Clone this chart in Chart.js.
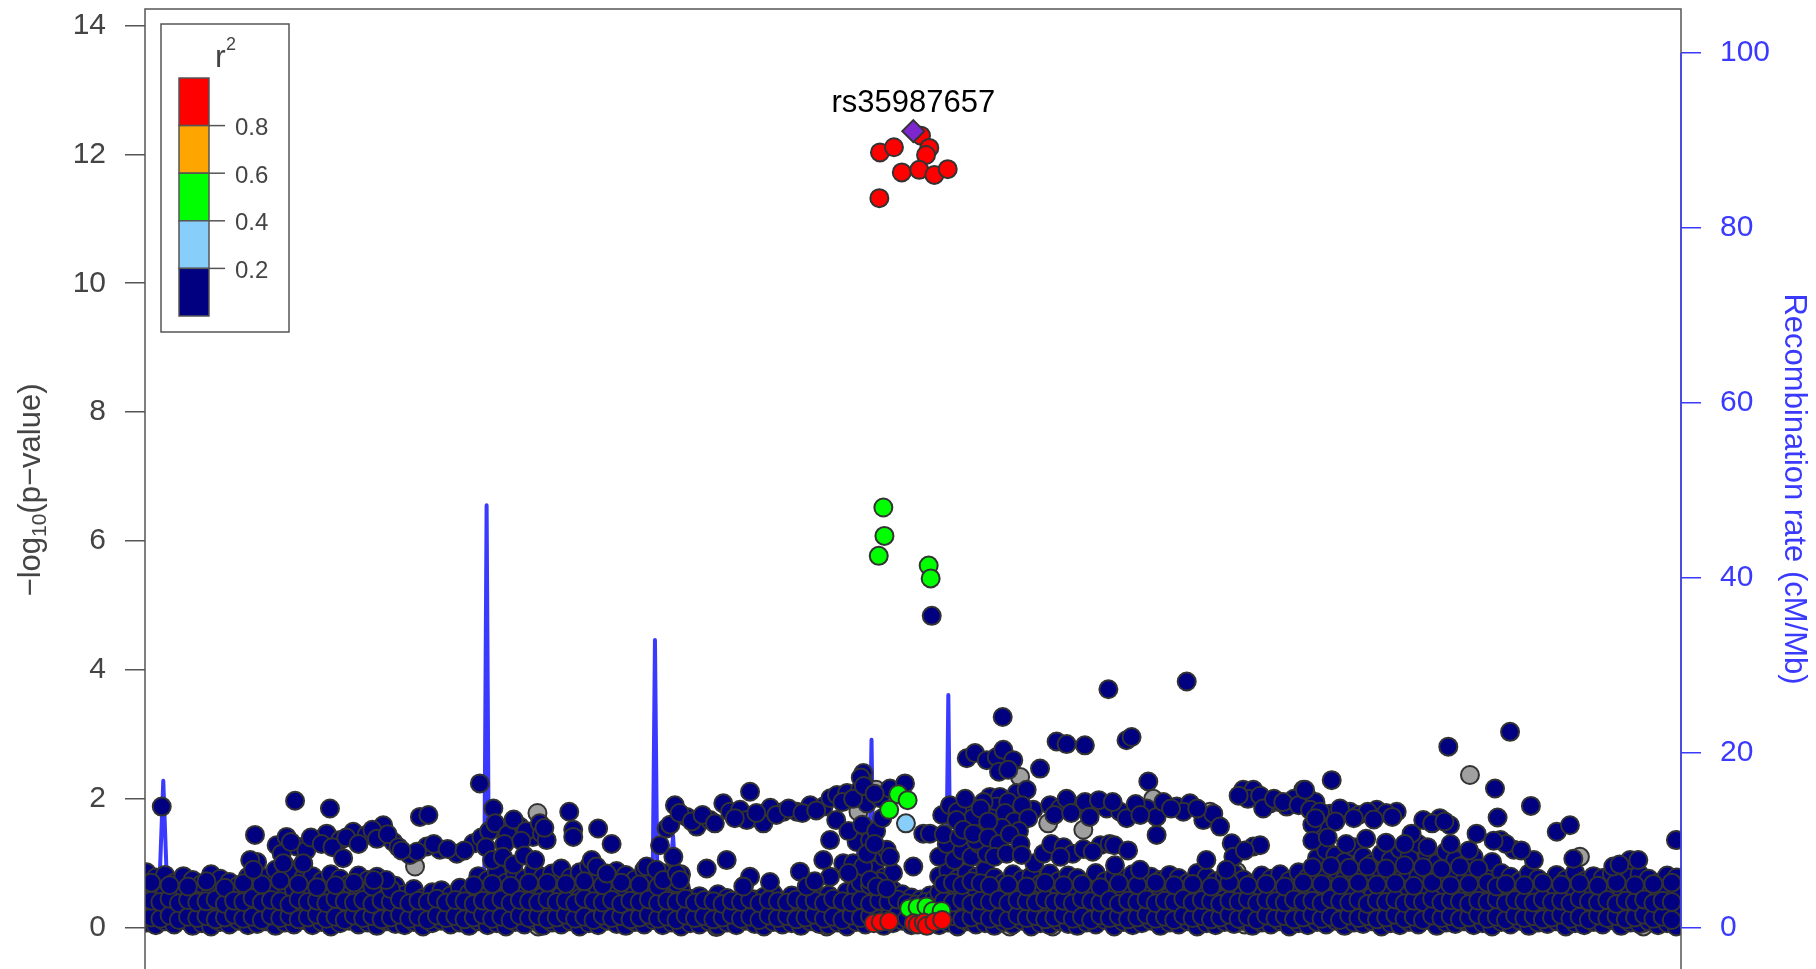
<!DOCTYPE html>
<html>
<head>
<meta charset="utf-8">
<style>
  html, body { margin: 0; padding: 0; background: #fff; overflow: hidden; }
  canvas { display: block; }
</style>
<script src="https://cdn.jsdelivr.net/npm/chart.js@4.4.1/dist/chart.umd.min.js"></script>
</head>
<body>
<canvas id="plot" width="1816" height="969"></canvas>
<script>
// ---- Regional association data: position (kb within region), -log10(p) ----

const leadSnp = { name: 'rs35987657', pos: 500.2, logp: 12.36 };

// r2 >= 0.8
const redSnps = [
  [478.5,12.03],[487.6,12.11],[505.2,12.29],[510.6,12.10],[508.5,11.99],
  [492.7,11.72],[504.1,11.76],[513.9,11.68],[522.6,11.77],[478.1,11.32],
  [474.5,0.07],[479,0.09],[484.5,0.10],[500.5,0.07],[503,0.05],
  [507,0.08],[509,0.03],[514,0.09],[519,0.12]
];

// 0.4 <= r2 < 0.6
const greenSnps = [
  [480.7,6.52],[481.4,6.08],[477.7,5.77],[510.2,5.62],[511.5,5.42],
  [490.4,2.07],[496.5,1.98],[484.5,1.83],
  [497.5,0.30],[503,0.32],[508.8,0.33],[513,0.26],[518.6,0.26]
];

// 0.2 <= r2 < 0.4
const lightBlueSnps = [[495.4,1.62]];

// r2 not available
const graySnps = [
  [175.8,0.95],[255.5,1.78],[256,0.02],[257,0.07],[373,0.07],[372,0.01],[390,0.65],[391.7,0.27],
  [443.8,0.02],[464.5,1.80],[476,2.14],[535,1.90],[536,0.53],[563,0.02],[569.7,2.34],[588,1.62],
  [591,0.02],[610.9,1.52],[656.4,2.00],[656.4,0.74],[693.4,1.80],[710.7,0.87],[716,0.05],
  [860.5,1.15],[862.6,2.37],[934.2,1.10],[975.5,0.02],[975,0.07]
];

// r2 < 0.2 : dense lower band, one row per position [pos, logp, logp, ...]
const baseWest = [
  [1,.08,.31,.55,.86],[7,.04,.27,.6,.78],[13,.1,.35,.52,.82],[19,.05,.22,.47,.7],[25,.12,.3,.58,.8],
  [31,.03,.26,.5,.74],[37,.07,.33,.45,.68],[43,.02,.24,.55,.83],[49,.09,.29,.49,.76],[55,.05,.36,.57,.71],
  [61,.11,.2,.44,.66],[67,.04,.28,.53,.79],[73,.06,.3,.56,.85,1.02],[79,.1,.25,.5,.78],[85,.03,.34,.62,.9],
  [91,.08,.27,.48,.8,.98],[97,.05,.31,.59,.84],[103,.12,.22,.51,.77,.99],[109,.04,.29,.55,.8],[115,.09,.35,.6,.72],
  [121,.02,.24,.47,.83],[127,.07,.32,.54,.76],[133,.11,.27,.5,.68],[139,.05,.21,.58,.81],[145,.08,.36,.45,.74],
  [151,.03,.26,.53,.79],[157,.1,.3,.57,.72],[163,.06,.23,.49,.65],[169,.04,.28,.52],[175,.09,.33,.6],
  [181,.02,.21,.46],[187,.07,.3,.55],[193,.11,.25,.58],[199,.05,.35,.5],[205,.08,.22,.62],
  [211,.03,.29,.54],[217,.1,.32,.56,.8],[223,.04,.26,.5,.74],[229,.07,.36,.61,.86],[235,.02,.23,.47,.7],
  [241,.09,.3,.58,.83],[247,.05,.27,.52,.76],[253,.12,.34,.55,.88],[259,.03,.21,.49,.79]
];
const baseMid = [
  [265,.08,.31,.57,.84],[271,.05,.25,.5,.92],[277,.1,.35,.62,.78],[283,.02,.28,.46,.86],[289,.07,.22,.55,.95],
  [295,.04,.33,.59,.8],[301,.11,.26,.48,.73],[307,.06,.3,.56,.88],[313,.03,.24,.52,.82],[319,.09,.36,.6,.75],
  [325,.05,.27,.5,.9],[331,.12,.32,.57,.79],[337,.04,.21,.47,.85],[343,.08,.29,.54,.72],[349,.02,.34,.61,.83],
  [355,.07,.25,.45],[361,.05,.3,.49],[367,.1,.22,.42],[373,.03,.27,.52],[379,.08,.33,.46],
  [385,.04,.2,.4],[391,.11,.29,.5],[397,.06,.35,.44],[403,.02,.24,.48],[409,.09,.31,.53],
  [415,.05,.26,.41],[421,.07,.34,.5],[427,.03,.21,.45],[433,.1,.28,.55],[439,.06,.32,.47],
  [445,.04,.23,.51],[451,.08,.3,.43],[457,.02,.26,.56],[463,.09,.35,.6],[469,.05,.28,.55,.82,1.05],
  [475,.1,.33,.6,.9,1.2],[481,.03,.24,.5,.78,1.1],[487,.07,.3,.58,.85],[493,.11,.26,.52],[499,.04,.32,.47],
  [505,.06,.22,.44],[511,.1,.3,.5]
];
const baseEast = [
  [517,.04,.27,.55,.8],[523,.08,.34,.6,.88],[529,.02,.23,.49,.76],[535,.1,.3,.57,.85],[541,.05,.36,.52,.79],
  [547,.07,.25,.62,.9],[553,.03,.29,.54,.78],[559,.09,.33,.47,.7],[565,.05,.24,.58,.83],[571,.11,.3,.5,.75],
  [577,.02,.35,.56,.8],[583,.07,.22,.45,.68],[589,.04,.28,.6,.84],[595,.1,.32,.52,.73],[601,.06,.26,.48,.81],
  [607,.03,.34,.57,.77],[613,.08,.21,.53,.69],[619,.05,.3,.59,.85],[625,.12,.27,.46,.72],[631,.02,.33,.55,.8],
  [637,.09,.24,.5,.76],[643,.04,.36,.58,.83],[649,.07,.29,.44,.7],[655,.11,.23,.52,.79],[661,.03,.31,.56,.74],
  [667,.08,.25,.49,.82],[673,.05,.34,.6,.77],[679,.1,.22,.47,.7],[685,.02,.29,.54,.85],[691,.07,.35,.58,.79],
  [697,.04,.26,.51,.72],[703,.09,.32,.45,.8],[709,.06,.23,.57,.84],[715,.11,.3,.53,.75],[721,.03,.27,.48,.69],
  [727,.08,.36,.6,.81],[733,.05,.24,.5,.76],[739,.1,.31,.55,.83],[745,.02,.28,.46,.73],[751,.07,.33,.59,.86],
  [757,.04,.21,.52,.78],[763,.09,.3,.56,.83,1.08],[769,.05,.26,.5,.78,1.2],[775,.11,.35,.61,.9,1.12],[781,.03,.23,.47,.75,1.02],
  [787,.08,.32,.55,.86,1.25],[793,.06,.28,.58,.8,1.1],[799,.1,.34,.49,.77,1.0],[805,.02,.25,.53,.88,1.15],[811,.07,.3,.6,.82,1.05],
  [817,.04,.22,.46,.74,1.22],[823,.09,.36,.57,.85,1.08],[829,.05,.27,.51,.79,1.3],[835,.12,.31,.55,.9,1.12],[841,.03,.24,.48,.76,1.0],
  [847,.08,.33,.59,.84,1.18],[853,.06,.29,.52,.8,1.05],[859,.1,.21,.47,.73,.98],[865,.04,.35,.6,.86,1.1],[871,.07,.26,.54,.81],
  [877,.02,.32,.5,.77,1.02],[883,.09,.28,.57,.85],[889,.05,.3,.53,.79],[895,.11,.24,.48,.72],[901,.03,.34,.6,.84],
  [907,.08,.27,.55,.76],[913,.06,.22,.46,.7],[919,.1,.33,.58,.82],[925,.02,.29,.51,.75],[931,.07,.25,.56,.86],
  [937,.04,.36,.49,.73],[943,.09,.28,.6,.8],[949,.05,.23,.52,.77],[955,.12,.31,.57,.84],[961,.03,.26,.47,.71],
  [967,.08,.34,.54,.79],[973,.06,.21,.5,.83],[979,.1,.3,.59,.76],[985,.04,.27,.45,.7],[991,.07,.32,.56,.81],
  [997,.02,.25,.52,.78]
];
// r2 < 0.2 : further low SNPs between the rows above
const fillWest = [
  [4,.16,.42,.7],[10,.14,.4],[16,.19,.45,.66],[22,.12,.38],[28,.17,.43,.64],[34,.15,.39],[40,.18,.41,.72],
  [46,.13,.44],[52,.16,.37,.62],[58,.2,.42],[64,.14,.4,.69],[70,.17,.46],[76,.12,.39,.67],[82,.19,.43],
  [88,.15,.41,.73],[94,.18,.36],[100,.13,.44,.68],[106,.16,.4],[112,.2,.42,.63],[118,.14,.38],[124,.17,.45,.66],
  [130,.12,.41],[136,.19,.39,.7],[142,.15,.43],[148,.18,.37,.64],[154,.13,.42],[160,.16,.4,.6],[166,.2,.44],
  [172,.14,.38],[178,.17,.42],[184,.12,.4],[190,.19,.45],[196,.15,.39],[202,.18,.43],[208,.13,.41],
  [214,.16,.37,.66],[220,.2,.42],[226,.14,.4,.68],[232,.17,.44],[238,.12,.38,.65],[244,.19,.43],[250,.15,.41,.7],
  [256,.18,.39]
];
const fillMid = [
  [262,.13,.44,.7],[268,.16,.4],[274,.2,.42,.68],[280,.14,.38],[286,.17,.45,.72],[292,.12,.41],[298,.19,.39,.66],
  [304,.15,.43],[310,.18,.37,.7],[316,.13,.42],[322,.16,.4,.67],[328,.2,.44],[334,.14,.38,.64],[340,.17,.42],
  [346,.12,.4,.69],[352,.19,.45],[358,.15,.39],[364,.18,.43],[370,.13,.41],[376,.16,.37],[382,.2,.42],
  [388,.14,.4],[394,.17,.44],[400,.12,.38],[406,.19,.43],[412,.15,.41],[418,.18,.39],[424,.13,.44],
  [430,.16,.4],[436,.2,.42],[442,.14,.38],[448,.17,.45],[454,.12,.41],[460,.19,.39],[466,.15,.43,.7],
  [472,.18,.37,.66],[478,.13,.42,.72],[484,.16,.4],[490,.2,.44],[496,.14,.38],[502,.17,.36],[508,.12,.4],
  [514,.19,.45]
];
const fillEast = [
  [520,.15,.41,.68],[526,.18,.39,.7],[532,.13,.43,.66],[538,.16,.37,.72],[544,.2,.42,.69],[550,.14,.4,.65],
  [556,.17,.44],[562,.12,.38,.67],[568,.19,.43],[574,.15,.41,.64],[580,.18,.39],[586,.13,.44,.7],[592,.16,.4],
  [598,.2,.42,.66],[604,.14,.38],[610,.17,.45,.68],[616,.12,.41],[622,.19,.39,.63],[628,.15,.43],[634,.18,.37,.69],
  [640,.13,.42],[646,.16,.4,.66],[652,.2,.44],[658,.14,.38,.7],[664,.17,.42],[670,.12,.4,.66],[676,.19,.45],
  [682,.15,.39,.68],[688,.18,.43],[694,.13,.41,.64],[700,.16,.37],[706,.2,.42,.7],[712,.14,.4],[718,.17,.44,.66],
  [724,.12,.38],[730,.19,.43,.68],[736,.15,.41],[742,.18,.39,.64],[748,.13,.44],[754,.16,.4,.7],[760,.2,.42,.94],
  [766,.14,.38,.68],[772,.17,.45,.96],[778,.12,.41,.66],[784,.19,.39,.93],[790,.15,.43,.7],[796,.18,.37,.95],
  [802,.13,.42,.67],[808,.16,.4,.92],[814,.2,.44,.69],[820,.14,.38,.97],[826,.17,.42,.65],[832,.12,.4,.94],
  [838,.19,.45,.7],[844,.15,.39,.91],[850,.18,.43,.66],[856,.13,.41,.95],[862,.16,.37,.68],[868,.2,.42,.92],
  [874,.14,.4,.7],[880,.17,.44,.64],[886,.12,.38,.68],[892,.19,.43],[898,.15,.41,.66],[904,.18,.39],
  [910,.13,.44,.7],[916,.16,.4],[922,.2,.42,.67],[928,.14,.38],[934,.17,.45,.69],[940,.12,.41],[946,.19,.39,.65],
  [952,.15,.43],[958,.18,.37,.7],[964,.13,.42],[970,.16,.4,.66],[976,.2,.44],[982,.14,.38,.68],[988,.17,.42],
  [994,.12,.4,.7]
];

// r2 < 0.2 : SNPs standing above the lower band
const navyWest = [
  [10.9,1.88],[71.6,1.44],[68.5,1.05],[70.5,0.90],[97.7,1.97],[120.4,1.85],
  [85.7,1.28],[92.2,1.41],[98.8,1.26],[111.8,1.36],[118.3,1.46],[127,1.36],[135.6,1.49],[144.3,1.44],
  [155.1,1.59],[161.7,1.33],[89,1.15],[95,1.33],[105,1.20],[108,1.40],[115,1.30],[122,1.25],[131,1.40],
  [139,1.30],[148,1.52],[151,1.38],[158,1.45],[165,1.25],[129,1.08],[90,1.00],[103,1.00],[157,0.74],[149,0.74],
  [179,1.72],[184.5,1.75],[172.5,1.13],[183.4,1.26],[192,1.21],[203,1.15],[213.7,1.31],[177,1.18],[188,1.30],
  [197,1.22],[208,1.20],[219,1.40],[167,1.20],[218,2.24],[226.8,1.85],[231,1.54],[244,1.57],[252.6,1.41],
  [224,1.50],[228,1.62],[236,1.45],[240,1.68],[248,1.50],[234,1.30],[245,1.35],[222,1.25],
  [226,1.05],[233,1.10],[240,0.98],[247,1.12],[254,1.05]
];
const navyMid = [
  [257,1.62],[258.5,1.46],[261.5,1.36],[260,1.55],[276.2,1.80],[278.8,1.52],[278.8,1.41],[295,1.54],[303.8,1.30],
  [290.8,1.05],[294,0.95],[300.6,0.84],[326.6,0.95],[333,0.90],[337.4,0.74],[346.2,0.84],[348.3,0.74],[344,1.10],
  [335.3,1.28],[339.6,1.54],[345,1.90],[352.7,1.72],[359.2,1.57],[367.8,1.67],[376.5,1.93],[380.9,1.80],
  [387.4,1.83],[393.9,2.11],[391.8,1.67],[402.6,1.62],[407.1,1.86],[415.8,1.80],[424.4,1.80],[433.1,1.90],
  [441.8,1.88],[446.2,2.01],[450.5,2.06],[457,2.09],[465.5,2.14],[467.7,2.40],[467.7,2.27],[470,1.93],
  [478.5,2.01],[485,2.16],[494.8,2.24],[342,1.60],[348,1.78],[356,1.65],[363,1.75],[371,1.62],[384,1.70],
  [398,1.78],[411,1.75],[419,1.85],[428,1.78],[437,1.82],[454,1.95],[461,2.00],[466,2.33],[468,2.20],[475,2.08],
  [446,1.36],[450,1.67],[463.3,1.33],[472,1.36],[482.9,1.21],[458,1.50],[467,1.60],[476,1.50],[480,1.70],
  [365.7,0.92],[378.7,1.05],[393.9,0.79],[389.5,0.64],[406.9,0.71],[426.4,0.87],[430.8,0.64],[441.6,1.05],
  [446,0.79],[454.6,1.00],[461.1,1.00],[467.6,0.95],[472,0.74],[476.4,0.64],[482.9,0.61],[458,0.85],[436,0.72],
  [470,1.15],[475,1.30],[485,1.10],[500.2,0.95],[506.7,1.46],[511,1.46],[512.2,4.84]
];
const navyEast = [
  [558.4,3.27],[627.2,3.70],[678.2,3.82],[593.5,2.89],[600,2.85],[611.9,2.83],[639,2.91],[642.3,2.96],
  [535,2.63],[540.4,2.71],[548,2.60],[554.5,2.65],[558.8,2.76],[565.3,2.60],[582.7,2.47],[556,2.42],[562,2.45],
  [653.2,2.27],[550,2.03],[556.6,2.03],[567.5,2.09],[574,2.14],[578.3,1.83],[541.5,1.88],[554.5,1.88],
  [546,1.95],[562,1.95],[571,1.90],[537,1.75],[544,1.60],[551,1.70],[560,1.78],[566,1.65],[575,1.70],
  [545,1.50],[558,1.55],[569,1.50],[517,1.10],[522,1.30],[527,1.05],[532,1.20],[538,1.10],[543,1.30],
  [548,1.15],[520,1.45],[530,1.40],[541,1.35],[519,1.75],[524,1.90],[529,1.80],[534,2.00],[539,1.70],
  [544,1.85],[549,1.65],[528.4,1.67],[532.8,1.52],[539.3,1.46],[549,1.40],[556,1.30],[563,1.45],[553,1.10],
  [561,1.15],[570,1.30],[579,1.00],[585,1.15],[570.8,1.13],
  [589.2,1.90],[595.7,1.85],[606.6,1.88],[617.4,1.90],[626.1,1.85],[634.8,1.80],[639.1,1.70],[652.1,1.85],
  [658.6,1.72],[600,2.00],[612,1.95],[621,1.98],[630,1.95],[645,1.92],[592,1.75],[603,1.78],[615,1.72],[648,1.75],
  [590,1.30],[598,1.25],[604,1.15],[611,1.22],[622,1.28],[628,1.30],[596,1.10],[617,1.18],[631,1.28],[640,1.20],
  [658.6,1.44],[631.5,0.97],[647.8,0.90],
  [671.7,1.88],[680.3,1.93],[689,1.67],[695.5,1.77],[699.9,1.57],[707.5,1.31],[708.6,1.10],[676,1.80],[685,1.85],
  [715,2.14],[721.6,2.14],[732.4,1.93],[743.3,1.88],[754.1,2.14],[760.6,1.88],[718,2.00],[726,2.05],[738,1.95],
  [748,2.00],[757,2.02],[728,1.85],[663,1.95],[668,1.85],[712,2.05],[735,2.00],[741,1.95],[751,1.90],[762,1.95],
  [721.6,1.26],[726,1.28],[716,1.20],[691,1.05],[704,0.90],[765,1.55],[760,1.60],
  [772.6,2.29],[848.5,2.81],[888.7,3.04],[878.9,2.16],[902.3,1.89],[880.6,1.71],[866.9,1.46],[919.1,1.49],
  [927.7,1.59],[929.9,1.07],[996.7,1.36],[755.2,2.14],[758.5,1.83],[771.5,1.77],[784.5,1.80],[801.9,1.83],
  [814.9,1.80],[765,1.80],[778,1.85],[790,1.75],[796,1.80],[808,1.78],[762,1.70],[775,1.65],[787,1.70],
  [800,1.68],[812,1.72],[832.2,1.67],[843,1.70],[849.6,1.59],[838,1.62],[846,1.65],[824.6,1.46],
  [882.5,1.36],[891.2,1.21],[904.2,1.05],[886,1.30],[878,1.35],[896,1.20],[955.9,0.95],[966.8,1.05],
  [972.2,1.05],[960,0.98],[760,1.35],[770,1.40],[782,1.30],[795,1.38],[808,1.32],[820,1.30],[835,1.25],
  [850,1.30],[862,1.20]
];

// Recombination rate (cM/Mb) along the region
const recPos  = [0, 5, 8.8, 11.9, 15, 30, 60, 90, 120, 150, 180, 200, 220.8, 222.4, 224, 240, 270, 300, 320,
                 330.4, 332, 333.6, 340, 343.8, 347, 370, 400, 430, 455, 463, 465.5, 468, 471.4, 473, 474.6,
                 490, 505, 521.4, 523, 524.6, 540, 580, 620, 660, 700, 740, 780, 820, 860, 900, 940, 970, 1000];
const recRate = [0.8, 1.2, 2.0, 16.8, 1.5, 0.6, 0.9, 0.4, 1.1, 0.7, 0.5, 1.0, 2.5, 48.3, 2.0, 0.6, 0.9, 1.2, 0.8,
                 3.0, 32.9, 4.0, 2.5, 10.5, 1.5, 0.7, 0.5, 0.9, 1.2, 4.0, 13.0, 3.0, 5.0, 21.5, 1.5,
                 0.8, 0.6, 2.0, 26.6, 1.8, 0.3, 0.2, 0.25, 0.2, 0.3, 0.2, 0.25, 0.3, 0.2, 0.35, 0.3, 0.4, 0.3];

// LD legend
const ldColors = ['#FF0000', '#FFA500', '#00FF00', '#87CEFA', '#000080'];
const ldBreaks = ['0.8', '0.6', '0.4', '0.2'];
const naColor = '#A0A0A0';
const leadColor = '#7D26CD';

const leftTicks = [0, 2, 4, 6, 8, 10, 12, 14];
const rightTicks = [0, 20, 40, 60, 80, 100];

const recColor = '#3a3aff';
const inkColor = '#444444';
const FONT = '"Liberation Sans", Arial, Helvetica, sans-serif';

// ---- helpers ----
const pairs = list => list.map(([x, y]) => ({ x, y }));
const rows = list => list.flatMap(([x, ...ys]) => ys.map(y => ({ x, y })));

const snpStyle = color => ({
  backgroundColor: color,
  borderColor: '#333333',
  borderWidth: 2,
  pointRadius: 9,
  pointHoverRadius: 9,
  showLine: false
});

const decorations = {
  id: 'decorations',
  afterDraw(chart) {
    const { ctx, chartArea: a, scales } = chart;
    const ys = scales.y, y2 = scales.y2, xs = scales.x;
    ctx.save();

    // plot frame
    ctx.strokeStyle = '#555555';
    ctx.lineWidth = 1.5;
    ctx.beginPath();
    ctx.moveTo(a.left, a.bottom + 2);
    ctx.lineTo(a.left, a.top);
    ctx.lineTo(a.right, a.top);
    ctx.lineTo(a.right, a.bottom + 2);
    ctx.stroke();

    // recombination axis line
    ctx.strokeStyle = recColor;
    ctx.beginPath();
    ctx.moveTo(a.right, y2.getPixelForValue(rightTicks[0]));
    ctx.lineTo(a.right, y2.getPixelForValue(rightTicks[rightTicks.length - 1]));
    ctx.stroke();

    // lead SNP name
    ctx.fillStyle = '#000000';
    ctx.font = '31px ' + FONT;
    ctx.textAlign = 'center';
    ctx.textBaseline = 'alphabetic';
    ctx.fillText(leadSnp.name, xs.getPixelForValue(leadSnp.pos), ys.getPixelForValue(leadSnp.logp) - 19.5);

    // LD legend
    const bx = a.left + 16, by = a.top + 15, bw = 128, bh = 308;
    ctx.fillStyle = '#ffffff';
    ctx.fillRect(bx, by, bw, bh);
    ctx.strokeStyle = '#555555';
    ctx.lineWidth = 1.5;
    ctx.strokeRect(bx, by, bw, bh);

    const cx = bx + 18, cy = by + 54, cw = 30, seg = 47.6;
    ldColors.forEach((c, i) => {
      ctx.fillStyle = c;
      ctx.fillRect(cx, cy + i * seg, cw, seg);
      ctx.strokeStyle = '#555555';
      ctx.lineWidth = 1.5;
      ctx.strokeRect(cx, cy + i * seg, cw, seg);
    });
    ctx.fillStyle = inkColor;
    ctx.font = '24px ' + FONT;
    ctx.textAlign = 'left';
    ctx.textBaseline = 'middle';
    ldBreaks.forEach((t, i) => {
      const ty = cy + (i + 1) * seg;
      ctx.strokeStyle = '#555555';
      ctx.beginPath();
      ctx.moveTo(cx + cw, ty);
      ctx.lineTo(cx + cw + 16, ty);
      ctx.stroke();
      ctx.fillText(t, cx + cw + 26, ty + 3);
    });
    ctx.textBaseline = 'alphabetic';
    ctx.font = '32px ' + FONT;
    ctx.fillText('r', bx + 54, by + 43);
    ctx.font = '18px ' + FONT;
    ctx.fillText('2', bx + 65, by + 26);

    // left axis title with subscript
    ctx.save();
    ctx.translate(40, 490);
    ctx.rotate(-Math.PI / 2);
    ctx.fillStyle = inkColor;
    const p1 = '\u2212log', p2 = '10', p3 = '(p\u2212value)';
    ctx.font = '31px ' + FONT;
    const w1 = ctx.measureText(p1).width, w3 = ctx.measureText(p3).width;
    ctx.font = '21px ' + FONT;
    const w2 = ctx.measureText(p2).width;
    const sx = -(w1 + w2 + w3) / 2;
    ctx.textAlign = 'left';
    ctx.font = '31px ' + FONT;
    ctx.fillText(p1, sx, 0);
    ctx.font = '21px ' + FONT;
    ctx.fillText(p2, sx + w1, 6);
    ctx.font = '31px ' + FONT;
    ctx.fillText(p3, sx + w1 + w2, 0);
    ctx.restore();

    // right axis title
    ctx.save();
    ctx.translate(1785, 489);
    ctx.rotate(Math.PI / 2);
    ctx.fillStyle = recColor;
    ctx.font = '31px ' + FONT;
    ctx.textAlign = 'center';
    ctx.textBaseline = 'alphabetic';
    ctx.fillText('Recombination rate (cM/Mb)', 0, 0);
    ctx.restore();

    ctx.restore();
  }
};

const fixWidth = w => scale => {
  scale.width = w;
  scale.paddingTop = 0;
  scale.paddingBottom = 0;
};

new Chart(document.getElementById('plot'), {
  type: 'scatter',
  data: {
    datasets: [
      { label: 'lead', data: [{ x: leadSnp.pos, y: leadSnp.logp }], ...snpStyle(leadColor),
        pointStyle: 'rectRot', pointRadius: 11, yAxisID: 'y' },
      { label: 'r2 0.8-1', data: pairs(redSnps), ...snpStyle(ldColors[0]), yAxisID: 'y' },
      { label: 'r2 0.4-0.6', data: pairs(greenSnps), ...snpStyle(ldColors[2]), yAxisID: 'y' },
      { label: 'r2 0.2-0.4', data: pairs(lightBlueSnps), ...snpStyle(ldColors[3]), yAxisID: 'y' },
      { label: 'r2 <0.2', data: [...pairs(navyWest), ...pairs(navyMid), ...pairs(navyEast)],
        ...snpStyle(ldColors[4]), yAxisID: 'y' },
      { label: 'r2 <0.2 band',
        data: [...rows(baseWest), ...rows(fillWest), ...rows(baseMid), ...rows(fillMid), ...rows(baseEast), ...rows(fillEast)],
        ...snpStyle(ldColors[4]), yAxisID: 'y' },
      { label: 'r2 NA', data: pairs(graySnps), ...snpStyle(naColor), yAxisID: 'y' },
      { label: 'recombination', type: 'line', data: recPos.map((x, i) => ({ x, y: recRate[i] })),
        yAxisID: 'y2', borderColor: recColor, borderWidth: 4, pointRadius: 0, fill: false,
        tension: 0, showLine: true, borderJoinStyle: 'round', borderCapStyle: 'round' }
    ]
  },
  options: {
    responsive: false,
    devicePixelRatio: 1,
    animation: false,
    events: [],
    layout: { autoPadding: false, padding: { top: 9, left: 0, right: 0, bottom: 0 } },
    plugins: { legend: { display: false }, tooltip: { enabled: false } },
    scales: {
      x: { type: 'linear', min: 0, max: 1000, display: false },
      y: {
        position: 'left', min: -0.640, max: 14.255,
        afterBuildTicks: s => { s.ticks = leftTicks.map(v => ({ value: v })); },
        afterFit: fixWidth(145),
        grid: { drawOnChartArea: false, drawTicks: true, tickLength: 20, color: '#555555', lineWidth: 1.5 },
        border: { display: false },
        ticks: { padding: 19, color: inkColor, font: { family: FONT, size: 30 } }
      },
      y2: {
        position: 'right', min: -4.716, max: 105.03,
        afterBuildTicks: s => { s.ticks = rightTicks.map(v => ({ value: v })); },
        afterFit: fixWidth(135),
        grid: { drawOnChartArea: false, drawTicks: true, tickLength: 20, color: recColor, lineWidth: 1.5 },
        border: { display: false },
        ticks: { padding: 19, color: recColor, font: { family: FONT, size: 30 } }
      }
    }
  },
  plugins: [decorations]
});
</script>
</body>
</html>
